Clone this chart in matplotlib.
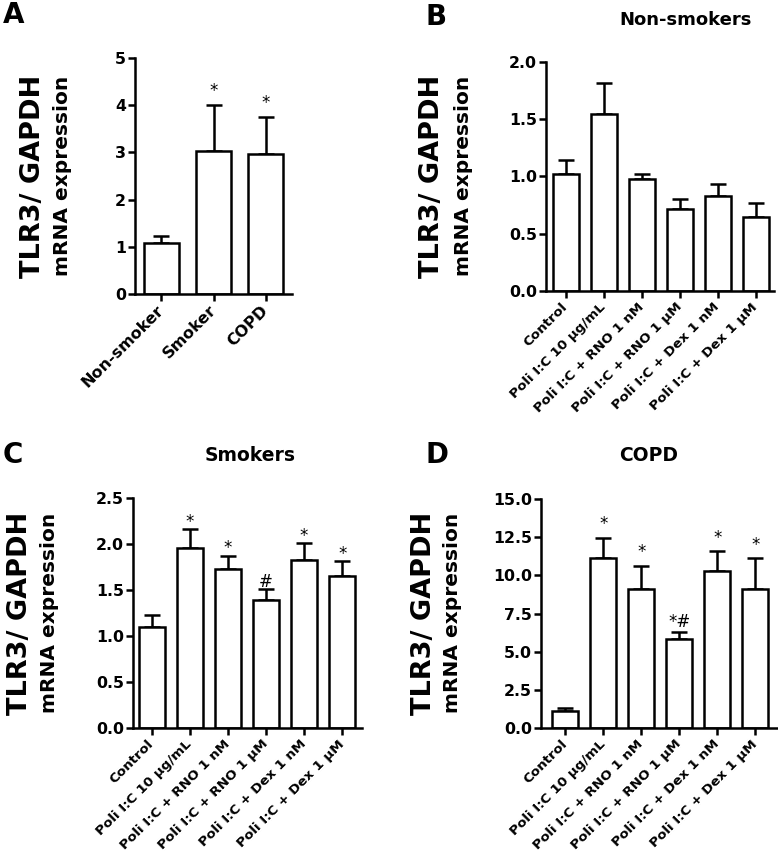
import matplotlib
matplotlib.use("Agg")
import matplotlib.pyplot as plt
import numpy as np

# ---------------- data ----------------
groups_A = ['Non-smoker', 'Smoker', 'COPD']
values_A = [1.08, 3.04, 2.96]
errors_A = [0.15, 0.97, 0.79]
marks_A = ['', '*', '*']

treatments = ['Control', 'Poli I:C 10 \u00b5g/mL', 'Poli I:C + RNO 1 nM',
              'Poli I:C + RNO 1 \u00b5M', 'Poli I:C + Dex 1 nM', 'Poli I:C + Dex 1 \u00b5M']

values_B = [1.02, 1.545, 0.975, 0.715, 0.826, 0.645]
errors_B = [0.12, 0.275, 0.045, 0.085, 0.11, 0.122]
marks_B = ['', '', '', '', '', '']

values_C = [1.097, 1.955, 1.726, 1.395, 1.824, 1.65]
errors_C = [0.131, 0.207, 0.149, 0.117, 0.189, 0.163]
marks_C = ['', '*', '*', '#', '*', '*']

values_D = [1.13, 11.13, 9.13, 5.82, 10.27, 9.13]
errors_D = [0.18, 1.34, 1.51, 0.46, 1.31, 1.99]
marks_D = ['', '*', '*', '*#', '*', '*']

yticks_A = [0, 1, 2, 3, 4, 5]
yticks_B = [0.0, 0.5, 1.0, 1.5, 2.0]
yticks_C = [0.0, 0.5, 1.0, 1.5, 2.0, 2.5]
yticks_D = [0.0, 2.5, 5.0, 7.5, 10.0, 12.5, 15.0]

# ---------------- style ----------------
plt.rcParams['font.family'] = ['DejaVu Sans']
W, H = 778, 855
fig = plt.figure(figsize=(W / 100, H / 100), dpi=100)
LW = 1.8


def box(l, r, t, b):
    return [l / W, 1 - b / H, (r - l) / W, (b - t) / H]


def panel(rect, cats, vals, errs, marks, yticks, yfmt, xlim, width,
          xfs, mark_off):
    ax = fig.add_axes(rect)
    x = np.arange(len(cats))
    ax.bar(x, vals, width=width, color='white', edgecolor='black',
           linewidth=LW, zorder=2)
    ax.errorbar(x, vals, yerr=[np.zeros(len(vals)), errs], fmt='none',
                ecolor='black', elinewidth=LW, capsize=6, capthick=LW,
                zorder=1)
    for xi, v, e, m in zip(x, vals, errs, marks):
        if m:
            off = mark_off[1] if '#' in m else mark_off[0]
            ax.annotate(m, (xi, v + e), xytext=(0, off),
                        textcoords='offset points', ha='center',
                        va='baseline', fontsize=12)
    ax.set_xlim(*xlim)
    ax.set_ylim(yticks[0], yticks[-1])
    ax.set_yticks(yticks)
    ax.set_yticklabels([yfmt.format(t) for t in yticks],
                       fontsize=11.3, fontweight='bold')
    ax.set_xticks(x)
    ax.set_xticklabels(cats, rotation=45, ha='right', va='center',
                       rotation_mode='anchor', fontsize=xfs,
                       fontweight='bold')
    for s in ['top', 'right']:
        ax.spines[s].set_visible(False)
    for s in ['left', 'bottom']:
        ax.spines[s].set_linewidth(LW)
    ax.tick_params(axis='both', direction='out', width=LW, length=5,
                   pad=1.5)
    ax.tick_params(axis='x', pad=5)
    return ax


panel(box(135, 292, 58, 294), groups_A, values_A, errors_A, marks_A,
      yticks_A, '{:.0f}', (-0.5, 2.5), 0.67, 11.5, (6.5, 3))
panel(box(546, 774, 62, 291), treatments, values_B, errors_B, marks_B,
      yticks_B, '{:.1f}', (-0.52, 5.48), 0.68, 9.7, (6, 3))
panel(box(133, 362, 498, 728), treatments, values_C, errors_C, marks_C,
      yticks_C, '{:.1f}', (-0.49, 5.52), 0.68, 9.7, (1.5, 1.5))
panel(box(541, 778, 499, 728), treatments, values_D, errors_D, marks_D,
      yticks_D, '{:.1f}', (-0.64, 5.6), 0.68, 9.7, (6, 3.5))


def ftext(px, py, s, **kw):
    fig.text(px / W, 1 - py / H, s, **kw)


# panel letters
for (px, py, s) in [(3, 1, 'A'), (425, 3, 'B'), (3, 441, 'C'), (425, 441, 'D')]:
    ftext(px, py, s, fontsize=20, fontweight='bold', ha='left', va='top')

# titles
ftext(686, 20, 'Non-smokers', fontsize=13, fontweight='bold', ha='center', va='center')
ftext(250, 455, 'Smokers', fontsize=13.5, fontweight='bold', ha='center', va='center')
ftext(649, 455, 'COPD', fontsize=13.5, fontweight='bold', ha='center', va='center')

# y labels
for (x1, x2, yc) in [(33, 63, 176), (432, 463, 176), (20, 50, 613), (424, 453, 613)]:
    ftext(x1, yc, 'TLR3/ GAPDH', fontsize=19.5, fontweight='bold',
          rotation=90, ha='center', va='center')
    ftext(x2, yc, 'mRNA expression', fontsize=14.5, fontweight='bold',
          rotation=90, ha='center', va='center')

fig.savefig('out.png', dpi=100, facecolor='white')
